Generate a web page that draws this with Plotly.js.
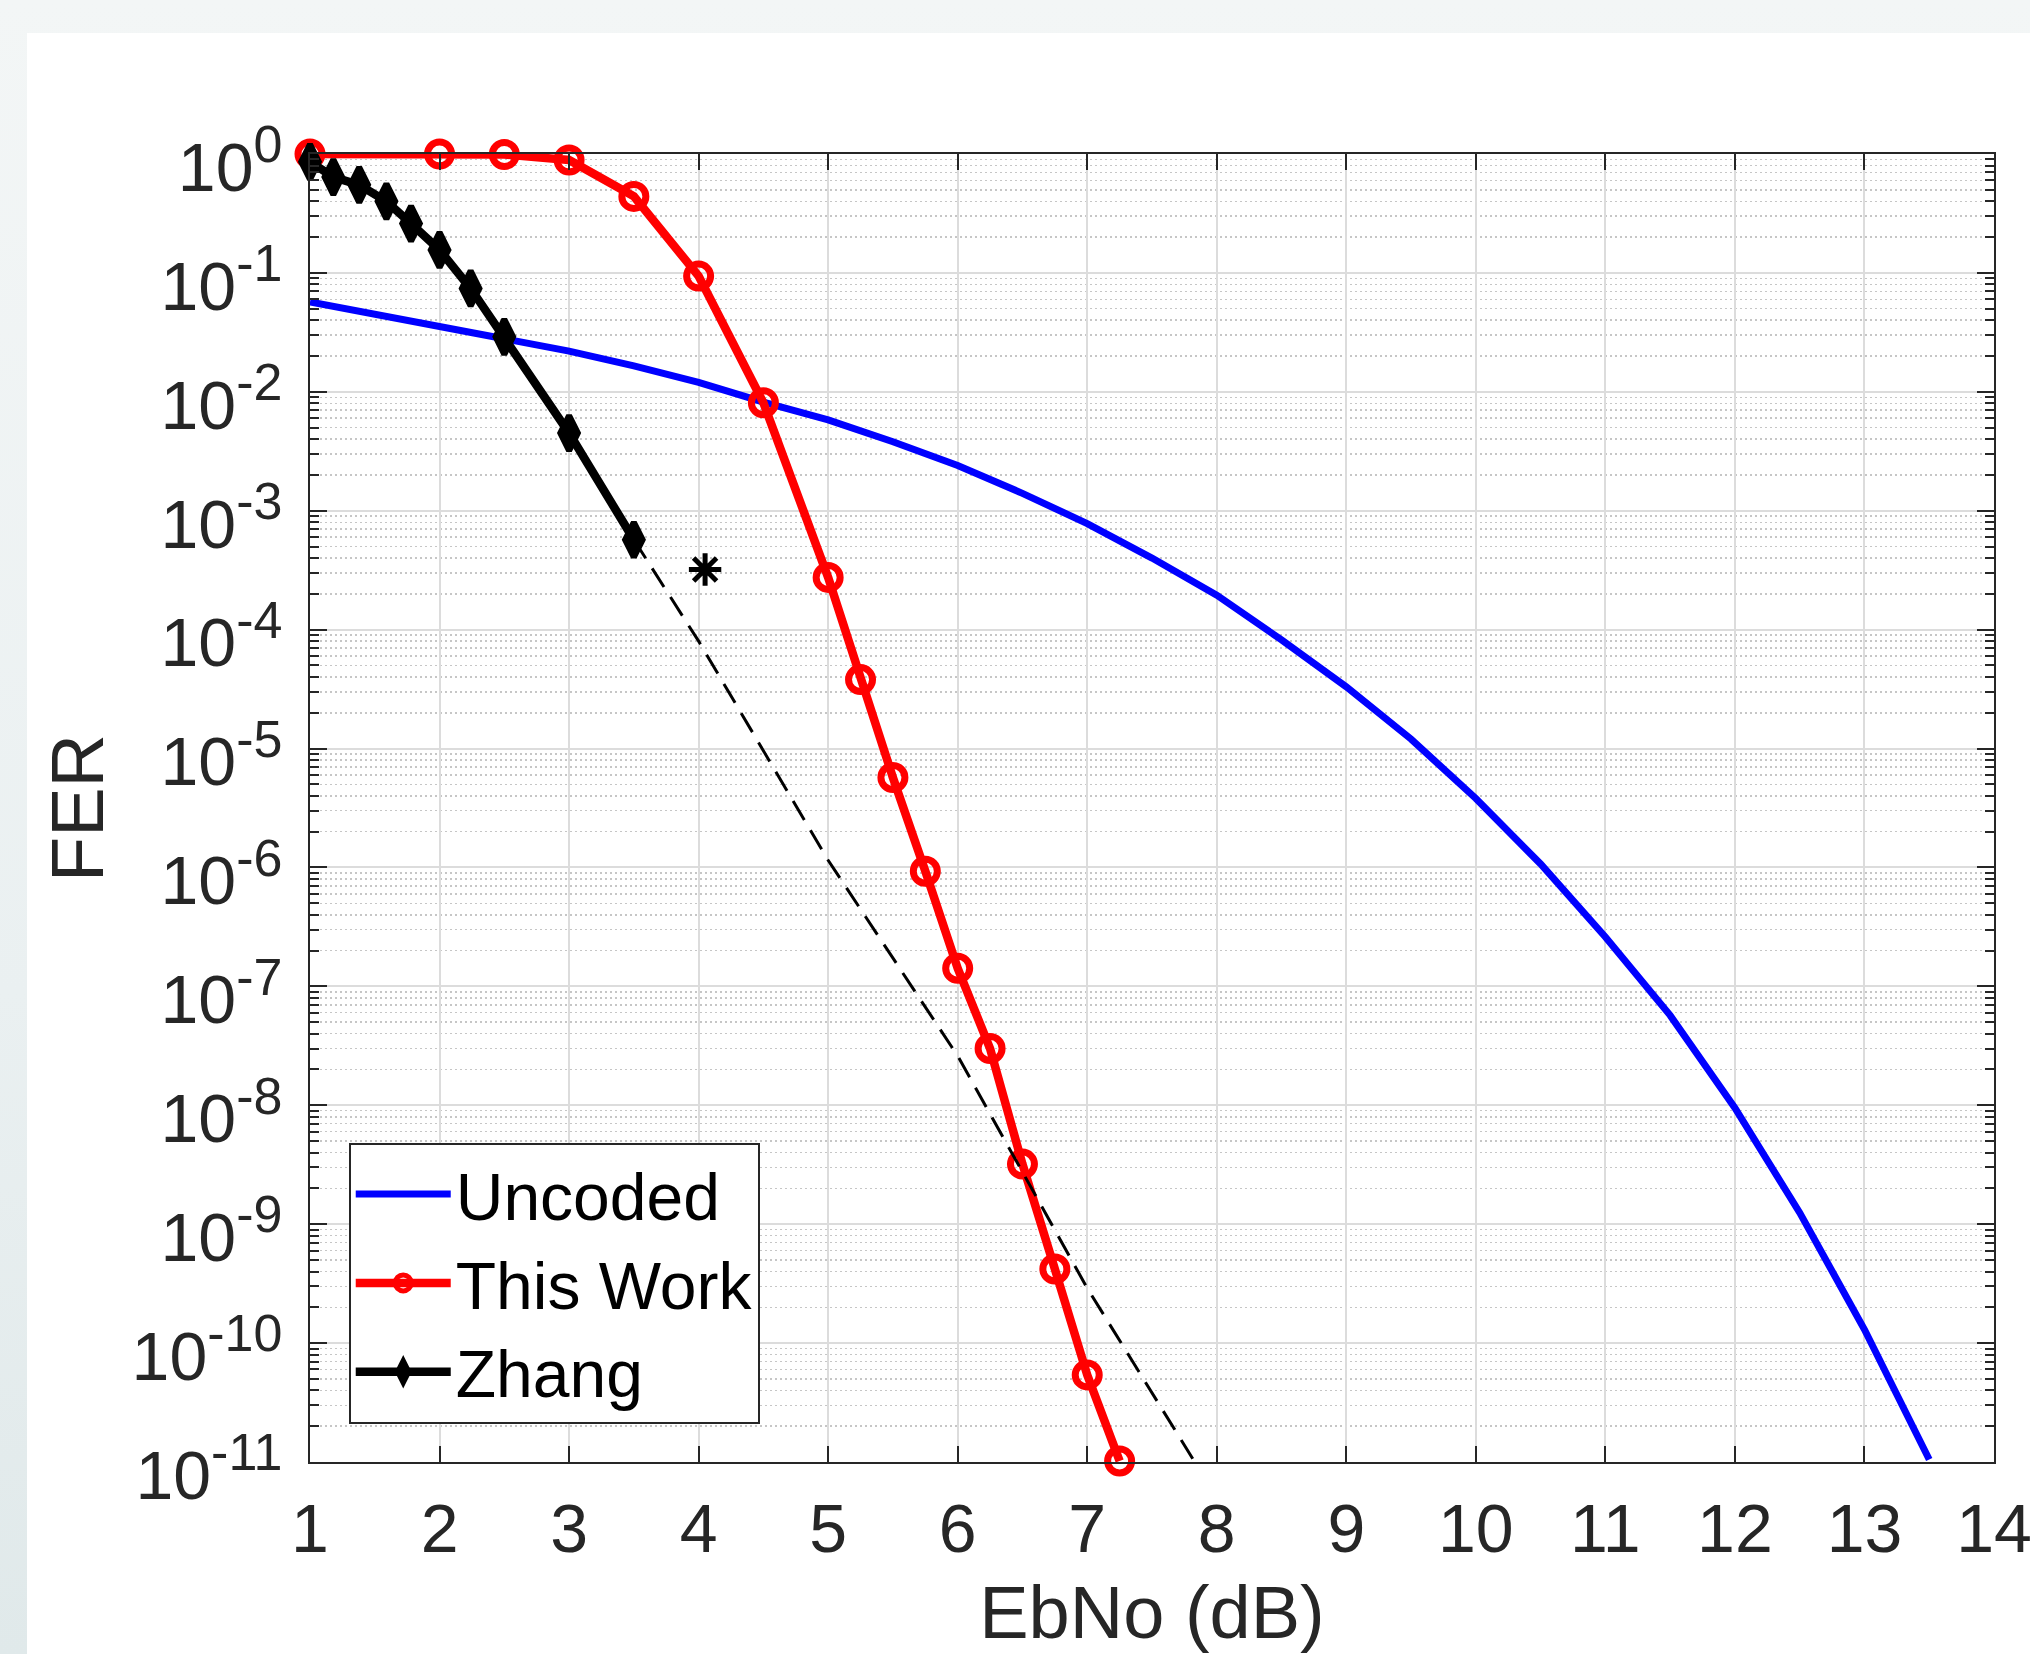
<!DOCTYPE html>
<html><head><meta charset="utf-8">
<script src="https://cdn.plot.ly/plotly-3.0.1.min.js"></script>
<style>
html,body{margin:0;padding:0;width:2030px;height:1654px;overflow:hidden;
background:linear-gradient(to bottom,#f3f6f6 0%,#eaf0f1 60%,#e0e9ea 100%);}
#chart{position:absolute;left:27px;top:33px;width:2003px;height:1621px;background:#fff;}
</style></head><body><div id="chart"></div>
<script>
// ---- data ----
const uncodedEbNo = [1,1.5,2,2.5,3,3.5,4,4.5,5,5.5,6,6.5,7,7.5,8,8.5,9,9.5,10,10.5,11,11.5,12,12.5,13,13.5];
const uncodedFER  = [0.057,0.045,0.036,0.028,0.022,0.0165,0.012,0.0082,0.0058,0.0038,0.0024,0.0014,7.8e-4,4.0e-4,1.95e-4,8.2e-5,3.3e-5,1.2e-5,3.8e-6,1.07e-6,2.6e-7,5.7e-8,9.5e-9,1.25e-9,1.3e-10,1.05e-11];

const thisWorkEbNo = [1,2,2.5,3,3.5,4,4.5,5,5.25,5.5,5.75,6,6.25,6.5,6.75,7,7.25];
const thisWorkFER  = [1,1,0.99,0.89,0.44,0.094,0.0081,2.75e-4,3.8e-5,5.7e-6,9.3e-7,1.42e-7,3.0e-8,3.2e-9,4.2e-10,5.4e-11,1.02e-11];

const zhangEbNo = [1,1.18,1.38,1.59,1.78,2,2.24,2.5,3,3.5];
const zhangFER  = [0.86,0.64,0.55,0.40,0.26,0.156,0.074,0.029,0.0045,5.7e-4];

const zhangExtEbNo = [3.5,4,5,6,7,7.83];
const zhangExtFER  = [5.7e-4,8e-5,1.15e-6,2.6e-8,2.9e-10,1e-11];

const starEbNo = [4.05];
const starFER  = [3.2e-4];

const seriesNames = ['Uncoded','This Work','Zhang'];
const xTicks = [1,2,3,4,5,6,7,8,9,10,11,12,13,14];
const yExponents = [0,-1,-2,-3,-4,-5,-6,-7,-8,-9,-10,-11];

// ---- axis tick helpers ----
const yTickVals = yExponents.map(e => Math.pow(10, e));
const yTickText = yExponents.map(e => '10<sup><span style="font-size:52px">' + (e < 0 ? '-' + (-e) : e) + '</span></sup>');
const yMinorVals = [];
yExponents.forEach(e => { for (let d = 2; d <= 9; d++) yMinorVals.push(d * Math.pow(10, e - 1)); });

const FONT = '"Liberation Sans", Arial, Helvetica, sans-serif';
const AX = '#262626';

const traces = [
  {x: uncodedEbNo, y: uncodedFER, name: seriesNames[0], mode: 'lines',
   line: {color: '#0000ff', width: 7}},
  {x: thisWorkEbNo, y: thisWorkFER, name: seriesNames[1], mode: 'lines+markers', cliponaxis: false,
   line: {color: '#ff0000', width: 8.5},
   marker: {symbol: 'circle-open', size: 24, color: '#ff0000', line: {color: '#ff0000', width: 7}}},
  {x: zhangEbNo, y: zhangFER, name: seriesNames[2], mode: 'lines+markers', cliponaxis: false,
   line: {color: '#000000', width: 8.5},
   marker: {symbol: 'diamond-tall', size: 25, color: '#000000', line: {color: '#000000', width: 6}}},
  {x: zhangExtEbNo, y: zhangExtFER, mode: 'lines', showlegend: false,
   line: {color: '#000000', width: 3, dash: '22px,12px'}},
  {x: starEbNo, y: starFER, mode: 'markers', showlegend: false,
   marker: {symbol: 'asterisk-open', size: 27, color: '#000000', line: {color: '#000000', width: 5}}}
];

const layout = {
  width: 2003, height: 1621,
  paper_bgcolor: '#ffffff', plot_bgcolor: '#ffffff',
  margin: {l: 282.5, r: 36, t: 121, b: 192, pad: 0},
  font: {family: FONT, color: AX, size: 68},
  showlegend: true,
  legend: {x: 0.023, y: 0.2441, xanchor: 'left', yanchor: 'top',
    bgcolor: '#ffffff', bordercolor: AX, borderwidth: 2,
    font: {family: FONT, size: 66, color: '#000000'}, itemwidth: 95, tracegroupgap: 0},
  xaxis: {
    type: 'linear', range: [1, 14], tickmode: 'array', tickvals: xTicks, ticktext: xTicks.map(String),
    ticks: 'inside', ticklen: 16, tickwidth: 2, tickcolor: AX,
    showline: true, linecolor: AX, linewidth: 2, mirror: 'ticks',
    showgrid: true, gridcolor: '#dcdcdc', gridwidth: 2, zeroline: false,
    tickfont: {family: FONT, size: 68, color: AX}, ticklabelstandoff: 6, ticklabeloverflow: 'allow',
    title: {text: 'EbNo (dB)', font: {family: FONT, size: 74, color: AX}, standoff: 30}
  },
  yaxis: {
    type: 'log', range: [-11, 0], tickmode: 'array', tickvals: yTickVals, ticktext: yTickText,
    ticks: 'inside', ticklen: 17, tickwidth: 2, tickcolor: AX,
    showline: true, linecolor: AX, linewidth: 2, mirror: 'ticks',
    showgrid: true, gridcolor: '#dcdcdc', gridwidth: 2, zeroline: false,
    tickfont: {family: FONT, size: 68, color: AX}, ticklabelstandoff: 12, ticklabelshift: 13,
    ticklabeloverflow: 'allow',
    minor: {tickmode: 'array', tickvals: yMinorVals, ticks: 'inside', ticklen: 9, tickwidth: 2, tickcolor: AX,
      showgrid: true, gridcolor: '#c6c6c6', gridwidth: 1.5, griddash: '2px,3px'},
    title: {text: 'FER', font: {family: FONT, size: 74, color: AX}, standoff: 4}
  }
};

Plotly.newPlot('chart', traces, layout, {displayModeBar: false, staticPlot: true});
</script></body></html>
